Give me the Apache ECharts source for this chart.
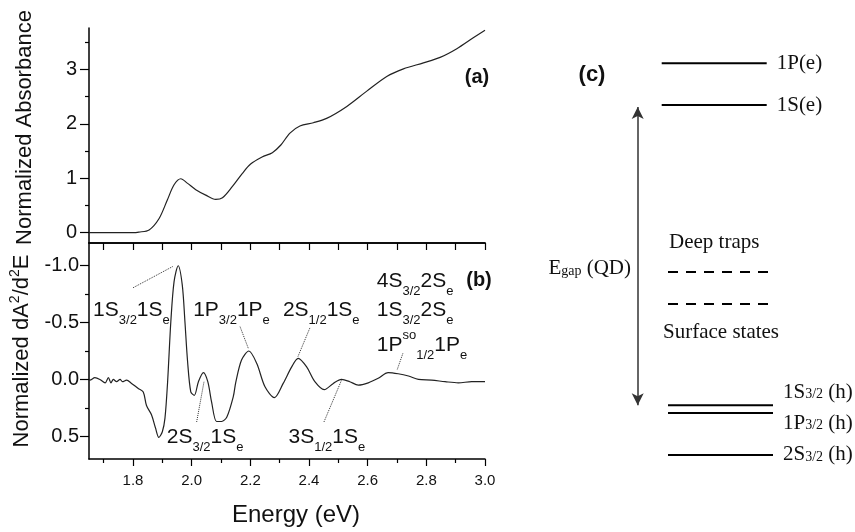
<!DOCTYPE html>
<html lang="en">
<head>
<meta charset="UTF-8">
<title>Absorbance and second derivative</title>
<script src="https://cdn.jsdelivr.net/npm/echarts@6/dist/echarts.min.js"></script>
<style>html,body{margin:0;padding:0;background:#fff;}</style>
</head>
<body>
<div id="main" style="width:855px;height:532px;"></div>
<script>
// (a) normalized absorbance
var absEnergy = [1.65, 1.70, 1.75, 1.80, 1.82, 1.855, 1.889, 1.917, 1.94, 1.963, 1.985, 2.014, 2.048, 2.082, 2.105, 2.139, 2.173, 2.201, 2.24, 2.275, 2.304, 2.335, 2.369, 2.415, 2.46, 2.529, 2.597, 2.665, 2.722, 2.79, 2.847, 2.904, 2.96, 3.0];
var absValue = [0, 0, 0, 0, 0.01, 0.05, 0.26, 0.60, 0.88, 0.99, 0.91, 0.79, 0.69, 0.61, 0.64, 0.85, 1.09, 1.26, 1.39, 1.47, 1.61, 1.83, 1.96, 2.02, 2.10, 2.32, 2.60, 2.87, 3.01, 3.12, 3.22, 3.38, 3.58, 3.72];

// (b) normalized second derivative
var derEnergy = [1.65, 1.653, 1.67, 1.687, 1.705, 1.716, 1.725, 1.733, 1.744, 1.756, 1.764, 1.778, 1.795, 1.818, 1.835, 1.846, 1.863, 1.877, 1.888, 1.9, 1.909, 1.918, 1.929, 1.94, 1.954, 1.968, 1.977, 1.986, 1.997, 2.009, 2.023, 2.04, 2.055, 2.068, 2.085, 2.102, 2.12, 2.142, 2.15, 2.17, 2.195, 2.222, 2.25, 2.282, 2.312, 2.341, 2.363, 2.392, 2.42, 2.452, 2.483, 2.511, 2.539, 2.568, 2.602, 2.636, 2.67, 2.704, 2.739, 2.773, 2.818, 2.864, 2.909, 2.955, 3.0];
var derValue = [0.0, 0.006, -0.015, 0.0, 0.03, -0.015, 0.03, 0.0, 0.02, 0.0, 0.02, 0.006, 0.035, 0.08, 0.11, 0.23, 0.31, 0.43, 0.51, 0.46, 0.34, 0.02, -0.51, -0.86, -1.0, -0.83, -0.51, -0.16, 0.11, 0.14, 0.02, -0.06, 0.02, 0.20, 0.37, 0.37, 0.33, 0.15, 0.03, -0.17, -0.25, -0.14, 0.065, 0.16, 0.035, -0.11, -0.185, -0.11, 0.02, 0.09, 0.035, 0.0, 0.02, 0.05, 0.03, -0.01, -0.06, -0.05, -0.03, 0.0, 0.006, 0.02, 0.03, 0.02, 0.02];

// tick labels
var xTicks = [1.8, 2.0, 2.2, 2.4, 2.6, 2.8, 3.0];
var xMinor = [1.7, 1.9, 2.1, 2.3, 2.5, 2.7, 2.9];
var absTicks = [0, 1, 2, 3];
var absMinor = [0.5, 1.5, 2.5, 3.5];
var derTicks = [-1.0, -0.5, 0.0, 0.5];
var derMinor = [-0.75, -0.25, 0.25];

// (b) transition labels
var transNames = ['1S{sub|3/2}1S{sub|e}', '1P{sub|3/2}1P{sub|e}', '2S{sub|1/2}1S{sub|e}', '4S{sub|3/2}2S{sub|e}',
  '1S{sub|3/2}2S{sub|e}', '1P{sup|so}{sub|1/2}1P{sub|e}', '2S{sub|3/2}1S{sub|e}', '3S{sub|1/2}1S{sub|e}'];

// (c) energy levels, arbitrary units
var electronNames = ['1P(e)', '1S(e)'];
var electronLevels = [94.7, 85.2];
var trapNames = ['Deep traps', 'Surface states'];
var trapLevels = [47.3, 40.0];
var holeNames = ['1S{s|3/2} (h)', '1P{s|3/2} (h)', '2S{s|3/2} (h)'];
var holeLevels = [17.0, 15.2, 5.7];
var gapTop = 84.8, gapBottom = 17.0;

function zip(a, b) { return a.map(function (v, i) { return [v, b[i]]; }); }

var SANS = 'Liberation Sans';
var SERIF = 'Liberation Serif';
var axisLine = { show: true, onZero: false, lineStyle: { color: '#000', width: 1.5 } };
var noLine = { show: false, onZero: false };
var tickLine = { color: '#000', width: 1.2 };

// where the labels and leader lines of (b) sit (energy, value)
var transPos = [[1.664, -0.611], [2.005, -0.611], [2.311, -0.611], [2.631, -0.861],
  [2.631, -0.611], [2.631, -0.303], [1.915, 0.506], [2.33, 0.506]];
var leaders = [
  [[1.800, -0.806], [1.936, -0.994]],
  [[2.165, -0.464], [2.193, -0.274]],
  [[2.403, -0.453], [2.362, -0.199]],
  [[2.72, -0.229], [2.701, -0.088]],
  [[2.017, 0.374], [2.042, 0.021]],
  [[2.451, 0.374], [2.511, 0.006]]
];

var subRich = {
  sub: { fontFamily: SANS, fontSize: 13, color: '#111', padding: [20, 0, 0, 0] },
  sup: { fontFamily: SANS, fontSize: 13, color: '#111', padding: [0, 0, 20, 0] }
};

var series = [
  {
    type: 'line', xAxisIndex: 0, yAxisIndex: 0, data: zip(absEnergy, absValue),
    showSymbol: false, smooth: 0.3, lineStyle: { color: '#222', width: 1.2 }
  },
  {
    type: 'line', xAxisIndex: 1, yAxisIndex: 2, data: zip(derEnergy, derValue),
    showSymbol: false, smooth: 0.3, lineStyle: { color: '#222', width: 1.2 },
    markLine: {
      silent: true, symbol: ['none', 'none'], animation: false,
      label: { show: false },
      lineStyle: { color: '#333', width: 1, type: 'dotted' },
      data: leaders.map(function (l) { return [{ coord: l[0] }, { coord: l[1] }]; })
    },
    markPoint: {
      silent: true, animation: false, symbolSize: 0,
      data: transNames.map(function (n, i) {
        return {
          coord: transPos[i],
          label: {
            show: true, position: 'right', distance: 0, formatter: n,
            fontFamily: SANS, fontSize: 21, color: '#111', rich: subRich
          }
        };
      })
    }
  }
];

// (c) level lines
electronNames.forEach(function (n, i) {
  series.push({
    type: 'line', xAxisIndex: 4, yAxisIndex: 4, silent: true,
    data: [[30.85, electronLevels[i]], [83.35, electronLevels[i]]],
    showSymbol: false, lineStyle: { color: '#000', width: 2 },
    endLabel: { show: true, distance: 10, formatter: function () { return n; }, fontFamily: SERIF, fontSize: 21, color: '#111' }
  });
});
trapNames.forEach(function (n, i) {
  series.push({
    type: 'line', xAxisIndex: 4, yAxisIndex: 4, silent: true,
    data: [[34, trapLevels[i]], [85.35, trapLevels[i]]],
    showSymbol: false, lineStyle: { color: '#000', width: 2, type: [10, 8] }
  });
});
var holeShift = [-13, 10, 0];
holeNames.forEach(function (n, i) {
  series.push({
    type: 'line', xAxisIndex: 4, yAxisIndex: 4, silent: true,
    data: [[34, holeLevels[i]], [86.5, holeLevels[i]]],
    showSymbol: false, lineStyle: { color: '#000', width: 2 },
    endLabel: {
      show: true, distance: 10, offset: [0, holeShift[i]], formatter: function () { return n; },
      fontFamily: SERIF, fontSize: 21, color: '#111',
      rich: { s: { fontFamily: SERIF, fontSize: 14, color: '#111', padding: [5, 0, 0, 0] } }
    }
  });
});
// band gap arrow
series.push({
  type: 'line', xAxisIndex: 4, yAxisIndex: 4, data: [],
  markLine: {
    silent: true, animation: false, symbol: ['arrow', 'arrow'], symbolSize: [9, 12],
    label: { show: false },
    lineStyle: { color: '#333', width: 1.5, type: 'solid' },
    data: [[{ coord: [18.85, gapTop] }, { coord: [18.85, gapBottom] }]]
  }
});

var myChart = echarts.init(document.getElementById('main'));
var option = {
  backgroundColor: '#fff',
  animation: false,
  grid: [
    { left: 89, top: 28, width: 396, height: 215, outerBoundsMode: 'none' },
    { left: 89, top: 243, width: 396, height: 216, outerBoundsMode: 'none' },
    { left: 600, top: 40, width: 200, height: 440, outerBoundsMode: 'none' }
  ],
  xAxis: [
    { gridIndex: 0, type: 'value', min: 1.65, max: 3.0, position: 'bottom', axisLine: axisLine,
      axisTick: { show: false }, axisLabel: { show: false }, splitLine: { show: false } },
    { gridIndex: 1, type: 'value', min: 1.65, max: 3.0, position: 'bottom', axisLine: axisLine,
      axisTick: { show: true, customValues: xTicks, length: 7, lineStyle: tickLine },
      axisLabel: { customValues: xTicks, formatter: function (v) { return v.toFixed(1); },
        fontFamily: SANS, fontSize: 15, color: '#111', margin: 14 },
      splitLine: { show: false },
      name: 'Energy (eV)', nameLocation: 'middle', nameGap: 44,
      nameTextStyle: { fontFamily: SANS, fontSize: 24, color: '#111', padding: [0, 0, 0, 18] } },
    { gridIndex: 1, type: 'value', min: 1.65, max: 3.0, position: 'bottom', axisLine: noLine,
      axisTick: { show: true, customValues: xMinor, length: 4, lineStyle: tickLine },
      axisLabel: { show: false }, splitLine: { show: false } },
    { gridIndex: 1, type: 'value', min: 1.65, max: 3.0, position: 'top', axisLine: axisLine,
      axisTick: { show: true, inside: true, customValues: xTicks.concat(xMinor), length: 7, lineStyle: tickLine },
      axisLabel: { show: false }, splitLine: { show: false } },
    { gridIndex: 2, type: 'value', min: 0, max: 100, show: false }
  ],
  yAxis: [
    { gridIndex: 0, type: 'value', min: -0.19, max: 3.76, position: 'left', axisLine: axisLine,
      axisTick: { show: true, customValues: absTicks, length: 9, lineStyle: tickLine },
      axisLabel: { customValues: absTicks, fontFamily: SANS, fontSize: 20, color: '#111', margin: 12 },
      splitLine: { show: false },
      name: 'Normalized Absorbance', nameLocation: 'middle', nameGap: 53,
      nameTextStyle: { fontFamily: SANS, fontSize: 22, color: '#111', padding: [0, 0, 0, 16] } },
    { gridIndex: 0, type: 'value', min: -0.19, max: 3.76, position: 'left', axisLine: noLine,
      axisTick: { show: true, customValues: absMinor, length: 4, lineStyle: tickLine },
      axisLabel: { show: false }, splitLine: { show: false } },
    { gridIndex: 1, type: 'value', inverse: true, min: -1.2, max: 0.7, position: 'left', axisLine: axisLine,
      axisTick: { show: true, customValues: derTicks, length: 9, lineStyle: tickLine },
      axisLabel: { customValues: derTicks, formatter: function (v) { return v.toFixed(1); },
        fontFamily: SANS, fontSize: 20, color: '#111', margin: 10 },
      splitLine: { show: false },
      name: 'Normalized dA{sup|2}/d{sup|2}E', nameLocation: 'middle', nameGap: 53,
      nameTextStyle: { fontFamily: SANS, fontSize: 22, color: '#111',
        rich: { sup: { fontFamily: SANS, fontSize: 14, color: '#111', padding: [0, 0, 14, 0] } } } },
    { gridIndex: 1, type: 'value', inverse: true, min: -1.2, max: 0.7, position: 'left', axisLine: noLine,
      axisTick: { show: true, customValues: derMinor, length: 4, lineStyle: tickLine },
      axisLabel: { show: false }, splitLine: { show: false } },
    { gridIndex: 2, type: 'value', min: 0, max: 100, show: false }
  ],
  graphic: [
    { type: 'text', x: 477, y: 77, silent: true,
      style: { text: '(a)', fill: '#111', font: 'bold 20px "Liberation Sans"', textAlign: 'center', textVerticalAlign: 'middle' } },
    { type: 'text', x: 479, y: 280, silent: true,
      style: { text: '(b)', fill: '#111', font: 'bold 20px "Liberation Sans"', textAlign: 'center', textVerticalAlign: 'middle' } },
    { type: 'text', x: 592, y: 75, silent: true,
      style: { text: '(c)', fill: '#111', font: 'bold 22px "Liberation Sans"', textAlign: 'center', textVerticalAlign: 'middle' } },
    { type: 'text', x: 631, y: 268, silent: true,
      style: { text: '{e|E}{g|gap}{e| (QD)}', textAlign: 'right', textVerticalAlign: 'middle',
        rich: { e: { fontFamily: SERIF, fontSize: 21, fill: '#111' }, g: { fontFamily: SERIF, fontSize: 14, fill: '#111', padding: [6, 0, 0, 0] } } } },
    { type: 'text', x: 669, y: 242, silent: true,
      style: { text: trapNames[0], fill: '#111', font: '21px "Liberation Serif"', textAlign: 'left', textVerticalAlign: 'middle' } },
    { type: 'text', x: 663, y: 332, silent: true,
      style: { text: trapNames[1], fill: '#111', font: '21px "Liberation Serif"', textAlign: 'left', textVerticalAlign: 'middle' } }
  ],
  series: series
};
myChart.setOption(option);
</script>
</body>
</html>
